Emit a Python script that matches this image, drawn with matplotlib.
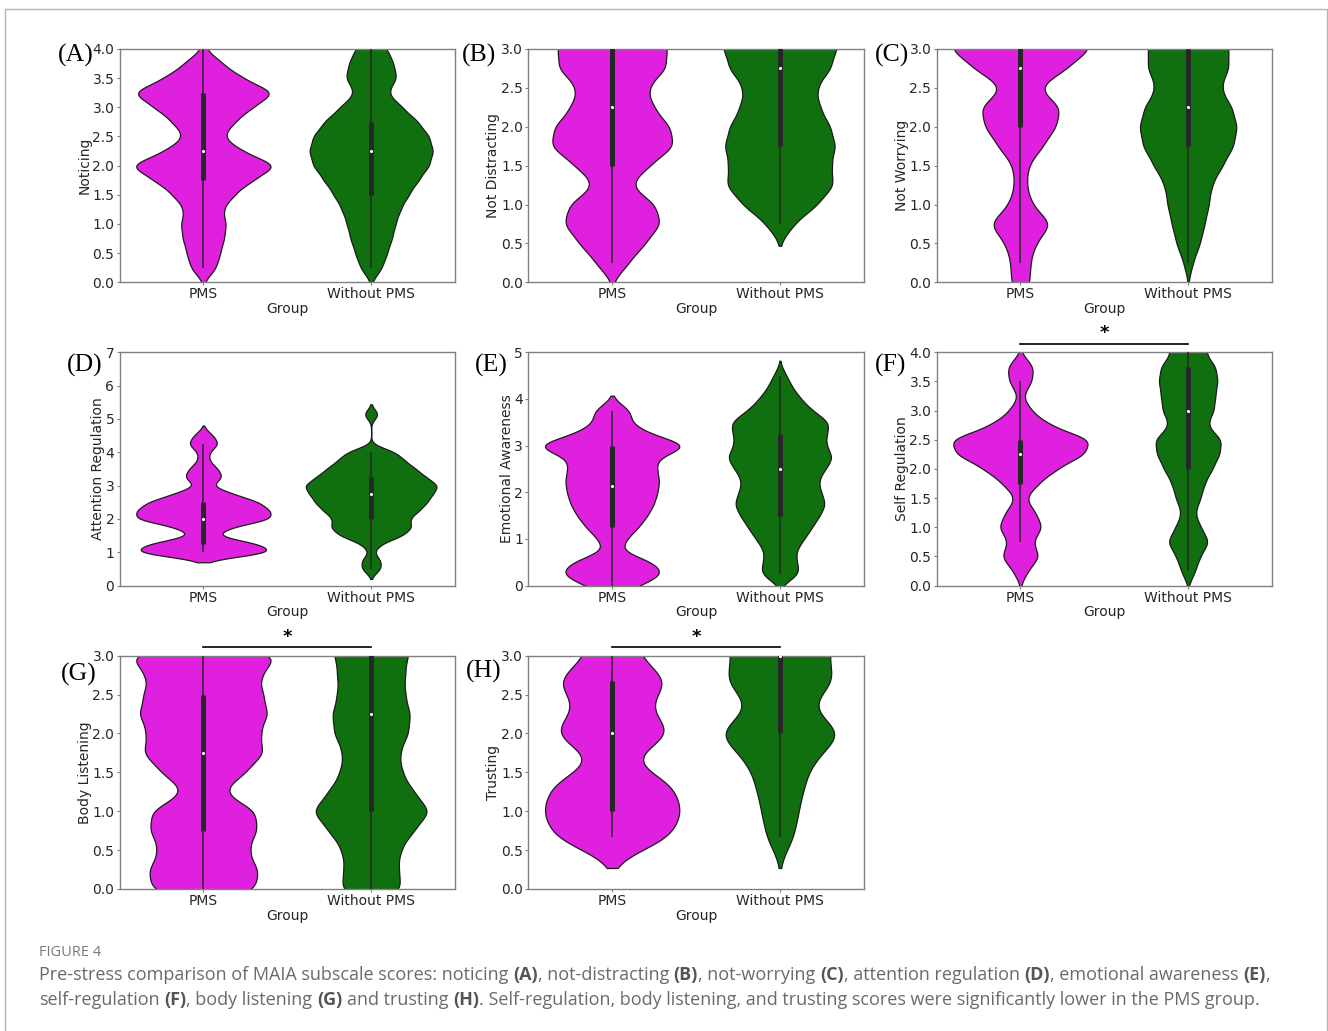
import numpy as np
import matplotlib
matplotlib.use("Agg")
import matplotlib.pyplot as plt
import matplotlib.transforms as mtransforms
from matplotlib import cbook
from matplotlib.lines import Line2D

W, H = 1328, 1031
plt.rcParams['font.family'] = 'DejaVu Sans'
plt.rcParams['font.size'] = 10

groups = ["PMS", "Without PMS"]
pms_color = "#df20df"
wo_color = "#107010"

# score values and how many participants sit at each value
A_pms_vals = [0.25, 0.5, 0.75, 1.0, 1.25, 1.5, 1.75, 2.0, 2.25, 2.5, 2.75, 3.0, 3.25, 3.5, 3.75, 4.0]
A_pms_counts = [19, 24, 30, 33, 27, 44, 70, 110, 55, 27, 45, 70, 106, 56, 28, 3]
A_wo_vals = [0.25, 0.5, 0.75, 1.0, 1.25, 1.5, 1.75, 2.0, 2.25, 2.5, 2.75, 3.0, 3.25, 3.5, 3.75, 4.0]
A_wo_counts = [16, 23, 30, 35, 42, 54, 68, 84, 90, 84, 68, 45, 22, 38, 32, 24]

B_pms_vals = [0.25, 0.5, 0.75, 1.0, 1.25, 1.5, 1.75, 2.0, 2.25, 2.5, 2.75, 3.0, 3.25, 3.5, 3.75, 4.0, 4.25, 4.5]
B_pms_counts = [24, 48, 72, 64, 24, 54, 92, 85, 60, 50, 80, 80, 75, 65, 50, 35, 20, 10]
B_wo_vals = [0.75, 1.0, 1.25, 1.5, 1.75, 2.0, 2.25, 2.5, 2.75, 3.0, 3.25, 3.5, 3.75, 4.0, 4.25, 4.5]
B_wo_counts = [20, 55, 80, 74, 82, 74, 58, 52, 75, 82, 90, 100, 95, 70, 35, 10]

C_pms_vals = [0.0, 0.25, 0.5, 0.75, 1.0, 1.25, 1.5, 1.75, 2.0, 2.25, 2.5, 2.75, 3.0, 3.25, 3.5, 3.75, 4.0]
C_pms_counts = [13, 13, 20, 43, 15, 8, 10, 30, 48, 55, 22, 62, 95, 85, 55, 28, 12]
C_wo_vals = [0.25, 0.5, 0.75, 1.0, 1.25, 1.5, 1.75, 2.0, 2.25, 2.5, 2.75, 3.0, 3.25, 3.5, 3.75, 4.0, 4.25]
C_wo_counts = [6, 16, 22, 28, 31, 46, 61, 66, 59, 42, 55, 54, 50, 41, 28, 14, 5]

D_pms_vals = [1.0, 1.25, 1.5, 1.75, 2.0, 2.25, 2.5, 2.75, 3.0, 3.25, 3.5, 3.75, 4.0, 4.25, 4.5]
D_pms_counts = [110, 85, 15, 40, 105, 100, 85, 45, 10, 30, 22, 8, 8, 24, 15]
D_wo_vals = [0.5, 0.75, 1.0, 1.25, 1.5, 1.75, 2.0, 2.25, 2.5, 2.75, 3.0, 3.25, 3.5, 3.75, 4.0, 5.14]
D_wo_counts = [15, 15, 3, 14, 48, 62, 56, 72, 84, 92, 102, 82, 67, 50, 38, 13]

E_pms_vals = [0.0, 0.25, 0.5, 0.75, 1.0, 1.25, 1.5, 1.75, 2.0, 2.25, 2.5, 2.75, 3.0, 3.25, 3.5, 3.75]
E_pms_counts = [25, 48, 38, 6, 13, 24, 32, 38, 41, 43, 40, 40, 75, 33, 16, 18]
E_wo_vals = [0.25, 0.5, 0.75, 1.0, 1.25, 1.5, 1.75, 2.0, 2.25, 2.5, 2.75, 3.0, 3.25, 3.5, 3.75, 4.0, 4.25, 4.5]
E_wo_counts = [19, 15, 14, 22, 29, 36, 42, 37, 34, 41, 49, 41, 42, 46, 29, 19, 11, 6]

F_pms_vals = [0.25, 0.5, 0.75, 1.0, 1.25, 1.5, 1.75, 2.0, 2.25, 2.5, 2.75, 3.0, 3.25, 3.5, 3.75]
F_pms_counts = [8, 22, 13, 25, 17, 5, 20, 40, 72, 80, 32, 12, 2, 13, 15]
F_wo_vals = [0.25, 0.5, 0.75, 1.0, 1.25, 1.5, 1.75, 2.0, 2.25, 2.5, 2.75, 3.0, 3.25, 3.5, 3.75, 4.0, 4.25, 4.5, 4.75, 5.0]
F_wo_counts = [8, 13, 24, 14, 7, 14, 18, 27, 35, 38, 20, 29, 30, 33, 31, 18, 26, 24, 18, 10]

G_pms_vals = [0.0, 0.25, 0.5, 0.75, 1.0, 1.25, 1.5, 1.75, 2.0, 2.25, 2.5, 2.75, 3.0]
G_pms_counts = [57, 57, 46, 56, 56, 18, 44, 64, 58, 68, 62, 58, 82]
G_wo_vals = [0.0, 0.25, 0.5, 0.75, 1.0, 1.25, 1.5, 1.75, 2.0, 2.25, 2.5, 2.75, 3.0,
             3.25, 3.5, 3.75, 4.0, 4.25, 4.5, 4.75, 5.0]
G_wo_counts = [33, 28, 30, 44, 63, 44, 32, 29, 39, 41, 35, 35, 38, 42, 45, 45, 42, 35, 25, 12, 4]

H_pms_vals = [0.67, 1.0, 1.33, 1.67, 2.0, 2.33, 2.67, 3.0, 3.33, 3.67, 4.0, 4.33, 4.67]
H_pms_counts = [60, 68, 62, 15, 62, 34, 58, 24, 26, 24, 20, 12, 6]
H_wo_vals = [0.67, 1.0, 1.33, 1.67, 2.0, 2.33, 2.67, 3.0, 3.33, 3.67, 4.0, 4.33, 4.67, 5.0]
H_wo_counts = [14, 18, 24, 34, 64, 28, 55, 46, 55, 55, 50, 35, 18, 8]

subscales = ["Noticing", "Not Distracting", "Not Worrying", "Attention Regulation",
             "Emotional Awareness", "Self Regulation", "Body Listening", "Trusting"]
letters = ["(A)", "(B)", "(C)", "(D)", "(E)", "(F)", "(G)", "(H)"]
y_tops = [4.0, 3.0, 3.0, 7, 5, 4.0, 3.0, 3.0]
y_steps = [0.5, 0.5, 0.5, 1, 1, 0.5, 0.5, 0.5]
significant = [False, False, False, False, False, True, True, True]
data = [
    (A_pms_vals, A_pms_counts, A_wo_vals, A_wo_counts),
    (B_pms_vals, B_pms_counts, B_wo_vals, B_wo_counts),
    (C_pms_vals, C_pms_counts, C_wo_vals, C_wo_counts),
    (D_pms_vals, D_pms_counts, D_wo_vals, D_wo_counts),
    (E_pms_vals, E_pms_counts, E_wo_vals, E_wo_counts),
    (F_pms_vals, F_pms_counts, F_wo_vals, F_wo_counts),
    (G_pms_vals, G_pms_counts, G_wo_vals, G_wo_counts),
    (H_pms_vals, H_pms_counts, H_wo_vals, H_wo_counts),
]
# kde bandwidth per panel
bandwidths = [0.14, 0.14, 0.14, 0.15, 0.16, 0.14, 0.14, 0.2]

# layout in pixels
col_left = [119.5, 528.3, 936.5]
row_top = [49, 352.3, 655.7]
ax_w, ax_h = 335.5, 233.3
label_pos = [(58, 62), (462, 62), (875, 62), (67, 372), (475, 372), (875, 372), (61, 681), (466, 678)]


def kde_curve(vals, counts, h):
    v = np.asarray(vals, float)
    c = np.asarray(counts, float)
    y = np.linspace(v.min() - 2 * h, v.max() + 2 * h, 600)
    dens = (c[None, :] * np.exp(-0.5 * ((y[:, None] - v[None, :]) / h) ** 2)).sum(axis=1)
    return y, dens


fig = plt.figure(figsize=(W / 100, H / 100), dpi=100)
fig.patch.set_facecolor("white")

for i in range(8):
    r, c = divmod(i, 3)
    left = col_left[c] / W
    bottom = 1 - (row_top[r] + ax_h) / H
    ax = fig.add_axes([left, bottom, ax_w / W, ax_h / H])
    pv, pc, wv, wc = data[i]
    h = bandwidths[i]
    curves = [kde_curve(pv, pc, h), kde_curve(wv, wc, h)]
    smax = max(curves[0][1].max(), curves[1][1].max())
    for pos, (y, dens), vals, cnts, col in zip([0, 1], curves, [pv, wv], [pc, wc], [pms_color, wo_color]):
        hw = 0.4 * dens / smax
        ax.fill_betweenx(y, pos - hw, pos + hw, facecolor=col, edgecolor="#1a1a1a", linewidth=0.9, zorder=2)
        st = cbook.boxplot_stats(np.repeat(vals, cnts))[0]
        ax.plot([pos, pos], [st["whislo"], st["whishi"]], color="#262626", lw=1.1,
                solid_capstyle="butt", zorder=3)
        ax.plot([pos, pos], [st["q1"], st["q3"]], color="#262626", lw=3.6,
                solid_capstyle="butt", zorder=3)
        ax.scatter([pos], [st["med"]], s=5, color="white", linewidths=0, zorder=4)

    ax.set_xlim(-0.5, 1.5)
    ax.set_ylim(0, y_tops[i])
    ticks = np.arange(0, y_tops[i] + 1e-9, y_steps[i])
    ax.set_yticks(ticks)
    if y_steps[i] < 1:
        ax.set_yticklabels(["%.1f" % t for t in ticks])
    else:
        ax.set_yticklabels(["%d" % t for t in ticks])
    ax.set_xticks([0, 1])
    ax.set_xticklabels(groups)
    ax.set_xlabel("Group", labelpad=0.5, color="#262626")
    ax.set_ylabel(subscales[i], labelpad=0.5, color="#262626")
    for sp in ax.spines.values():
        sp.set_color("#808080")
        sp.set_linewidth(1.0)
    ax.tick_params(length=2.5, pad=1.2, color="#808080", labelcolor="#262626", labelsize=10)

    if significant[i]:
        trans = mtransforms.blended_transform_factory(ax.transData, ax.transAxes)
        ax.plot([0, 1], [1.036, 1.036], transform=trans, color="black", lw=1.2, clip_on=False)
        ax.text(0.5, 1.06, "*", transform=trans, ha="center", va="baseline", fontsize=13,
                fontweight="bold")

    lx, ly = label_pos[i]
    fig.text(lx / W, 1 - ly / H, letters[i], family="Liberation Serif", fontsize=18.5,
             ha="left", va="baseline", color="black")

# outer frame of the figure panel
fig.add_artist(Line2D([4.5 / W, 4.5 / W, 1326.5 / W, 1326.5 / W], [0, 1 - 8.5 / H, 1 - 8.5 / H, 0],
                      transform=fig.transFigure, color="#b4b4b4", lw=1.0))

# caption
renderer = fig.canvas.get_renderer()
cap_size = 13
cap_font = "Open Sans"
probe1 = fig.text(0, 0, "a a", fontsize=cap_size, family=cap_font)
probe2 = fig.text(0, 0, "aa", fontsize=cap_size, family=cap_font)
space_w = probe1.get_window_extent(renderer).width - probe2.get_window_extent(renderer).width
probe1.remove()
probe2.remove()

fig.text(39 / W, 1 - 956 / H, "FIGURE 4", family=cap_font, fontsize=10.5, color="#7a7a7a",
         ha="left", va="baseline")

line1 = [("Pre-stress comparison of MAIA subscale scores: noticing ", False), ("(A)", True),
         (", not-distracting ", False), ("(B)", True), (", not-worrying ", False), ("(C)", True),
         (", attention regulation ", False), ("(D)", True), (", emotional awareness ", False),
         ("(E)", True), (",", False)]
line2 = [("self-regulation ", False), ("(F)", True), (", body listening ", False), ("(G)", True),
         (" and trusting ", False), ("(H)", True),
         (". Self-regulation, body listening, and trusting scores were significantly lower in the PMS group.", False)]


def rich_line(parts, y_px):
    x = 39.0
    for txt, bold in parts:
        lead = len(txt) - len(txt.lstrip(" "))
        trail = len(txt) - len(txt.rstrip(" "))
        x += lead * space_w
        t = fig.text(x / W, 1 - y_px / H, txt.strip(" "), family=cap_font, fontsize=cap_size,
                     fontweight="bold" if bold else "normal",
                     color="#555555" if bold else "#6a6a6a", ha="left", va="baseline")
        x = t.get_window_extent(renderer).x1 + trail * space_w


rich_line(line1, 980)
rich_line(line2, 1005)

fig.savefig("out.png", dpi=100, facecolor="white")
